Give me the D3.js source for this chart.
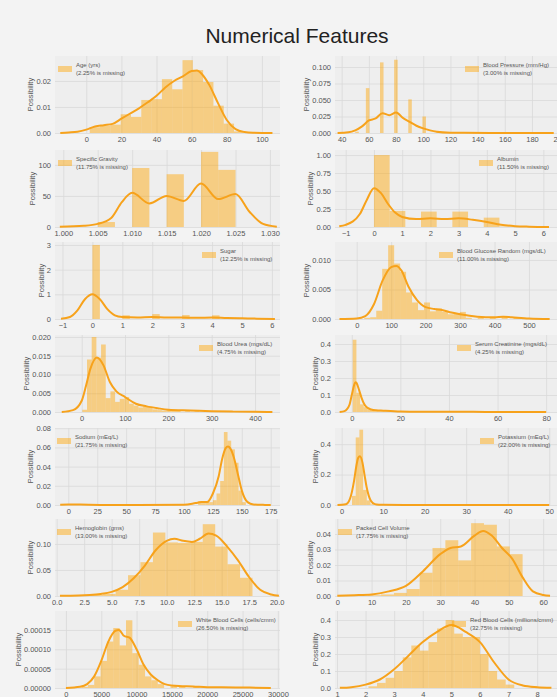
<!DOCTYPE html>
<html>
<head>
<meta charset="utf-8">
<script src="https://cdnjs.cloudflare.com/ajax/libs/d3/7.8.5/d3.min.js"></script>
<style>
  body { margin: 0; background: #f3f3f3; }
  svg { display: block; font-family: "Liberation Sans", Arial, sans-serif; }
  .tick text { fill: #555; font-size: 7.5px; }
  .tick line { stroke: #d9d9d9; stroke-width: 0.8; }
</style>
</head>
<body>
<div id="plot"></div>
<script>
// ---- data ----
var features = ["Age (yrs)", "Blood Pressure (mm/Hg)", "Specific Gravity", "Albumin",
  "Sugar", "Blood Glucose Random (mgs/dL)", "Blood Urea (mgs/dL)", "Serum Creatinine (mgs/dL)",
  "Sodium (mEq/L)", "Potassium (mEq/L)", "Hemoglobin (gms)", "Packed Cell Volume",
  "White Blood Cells (cells/cmm)", "Red Blood Cells (millions/cmm)"];
var missing = ["2.25", "3.00", "11.75", "11.50", "12.25", "11.00", "4.75", "4.25",
  "21.75", "22.00", "13.00", "17.75", "26.50", "32.75"];

// histogram bins: [from, to, density]
var ageBins = [[2,7.87,0.0022],[7.87,13.73,0.0028],[13.73,19.6,0.0032],[19.6,25.47,0.0072],
  [25.47,31.33,0.0062],[31.33,37.2,0.0127],[37.2,43.07,0.013],[43.07,48.93,0.0207],
  [48.93,54.8,0.0168],[54.8,60.67,0.028],[60.67,66.53,0.0242],[66.53,72.4,0.0196],
  [72.4,78.27,0.0105],[78.27,84.13,0.0036],[84.13,90,0.0006]];
var bpBins = [[50,52.6,0.002],[57.8,60.4,0.068],[68.2,70.8,0.107],[78.6,81.2,0.111],
  [89,91.6,0.051],[99.4,102,0.025],[109.8,112.4,0.003],[117.6,120.2,0.0008],
  [138.4,141,0.0008],[177.4,180,0.0008]];
var sgBins = [[1.005,1.0075,8],[1.010,1.0125,95],[1.015,1.0175,85],[1.020,1.0225,121],[1.0225,1.025,92]];
var albBins = [[0,0.556,1.0],[0.556,1.111,0.223],[1.667,2.222,0.214],[2.778,3.333,0.214],
  [3.889,4.444,0.13],[4.444,5,0.006]];
var sugarBins = [[0,0.25,3.0],[1,1.25,0.15],[2,2.25,0.2],[3,3.25,0.16],[4,4.25,0.15],[4.75,5,0.035]];
var bgrBins = [[22,39.3,0.0002],[39.3,56.7,0.0003],[56.7,74,0.0014],[74,91.3,0.0085],
  [91.3,108.7,0.0125],[108.7,126,0.0094],[126,143.3,0.008],[143.3,160.7,0.0045],
  [160.7,178,0.0028],[178,195.3,0.0015],[195.3,212.7,0.0028],[212.7,230,0.0013],
  [230,247.3,0.0018],[247.3,264.7,0.0012],[264.7,282,0.0008],[282,299.3,0.0009],
  [299.3,316.7,0.0012],[316.7,334,0.0002],[351.3,368.7,0.0002],[386,403.3,0.0002],
  [420.7,438,0.0003],[455.3,472.7,0.0002],[472.7,490,0.0002]];
var buBins = [[1.5,12.3,0.0006],[12.3,23.1,0.014],[23.1,33.9,0.02],[33.9,44.7,0.0145],
  [44.7,55.5,0.018],[55.5,66.3,0.0037],[66.3,77.1,0.0055],[77.1,87.8,0.0027],
  [87.8,98.6,0.0035],[98.6,109.4,0.004],[109.4,120.2,0.0022],[120.2,131,0.0017],
  [131,141.8,0.0012],[141.8,152.6,0.0015],[152.6,163.4,0.0012],[163.4,174.2,0.0007],
  [174.2,185,0.0005],[185,195.8,0.0004],[195.8,206.6,0.0006],[206.6,217.3,0.0003],
  [217.3,228.1,0.0003],[238.9,249.7,0.0002],[260.5,271.3,0.0002],[292.8,303.6,0.0002],
  [314.4,325.2,0.0002],[357.6,368.4,0.0002],[379.2,390,0.0002]];
var scBins = [[0.4,1.91,0.425],[1.91,3.42,0.113],[3.42,4.94,0.045],[4.94,6.45,0.028],
  [6.45,7.96,0.016],[7.96,9.47,0.01],[9.47,10.98,0.005],[10.98,12.5,0.004],[12.5,14,0.003],
  [14,15.5,0.002],[18.6,20.1,0.001],[23.1,24.6,0.001],[31.6,33.1,0.0008],[47.8,49.3,0.0008],
  [74.5,76,0.0008]];
var sodBins = [[4.5,7.67,0.0008],[112.28,115.45,0.004],[115.45,118.62,0.002],[118.62,121.79,0.003],
  [121.79,124.96,0.003],[124.96,128.13,0.005],[128.13,131.3,0.012],[131.3,134.47,0.025],
  [134.47,137.64,0.076],[137.64,140.81,0.067],[140.81,143.98,0.058],[143.98,147.15,0.044],
  [147.15,150.32,0.015],[150.32,153.49,0.003],[159.83,163,0.0008]];
var potBins = [[2.5,3.39,0.06],[3.39,4.28,0.444],[4.28,5.17,0.495],[5.17,6.06,0.099],
  [6.06,6.95,0.03],[6.95,7.84,0.004],[38.1,39,0.006],[46.1,47,0.006]];
var hbBins = [[3.1,4.23,0.002],[4.23,5.36,0.004],[5.36,6.49,0.012],[6.49,7.62,0.04],
  [7.62,8.75,0.065],[8.75,9.88,0.122],[9.88,11.02,0.103],[11.02,12.15,0.102],
  [12.15,13.28,0.104],[13.28,14.41,0.138],[14.41,15.54,0.095],[15.54,16.67,0.061],
  [16.67,17.8,0.035]];
var pcvBins = [[9,12.75,0.0005],[12.75,16.5,0.001],[16.5,20.25,0.002],[20.25,24,0.0045],
  [24,27.75,0.015],[27.75,31.5,0.031],[31.5,35.25,0.036],[35.25,39,0.023],[39,42.75,0.047],
  [42.75,46.5,0.046],[46.5,50.25,0.032],[50.25,54,0.027]];
var wbcBins = [[2200,3100,0.000003],[3100,4000,0.000008],[4000,4900,0.00003],[4900,5800,0.00007],
  [5800,6700,0.00012],[6700,7600,0.000155],[7600,8500,0.00011],[8500,9400,0.000175],
  [9400,10300,0.00009],[10300,11200,0.00006],[11200,12100,0.00003],[12100,13000,0.00002],
  [13000,13900,0.00001],[14800,15700,0.000005],[16000,16900,0.000003],[18000,18900,0.000003],
  [21000,21900,0.000002],[25500,26400,0.000002]];
var rbcBins = [[2.1,2.4,0.01],[2.4,2.7,0.03],[2.7,3.0,0.06],[3.0,3.3,0.1],[3.3,3.6,0.18],
  [3.6,3.9,0.25],[3.9,4.2,0.22],[4.2,4.5,0.27],[4.5,4.8,0.35],[4.8,5.1,0.4],[5.1,5.4,0.32],
  [5.4,5.7,0.3],[5.7,6.0,0.3],[6.0,6.3,0.2],[6.3,6.6,0.1],[6.6,6.9,0.05],[6.9,7.2,0.02],
  [7.8,8.0,0.01]];

// kde curves: [value, density]
var ageKde = [[-14.8,0],[-10,0.0002],[-5,0.0005],[0,0.0013],[5,0.0025],[10,0.003],[15,0.0035],
  [20,0.0055],[25,0.0075],[30,0.0095],[35,0.0118],[40,0.0143],[45,0.0175],[50,0.02],
  [55,0.0218],[60,0.0238],[63,0.024],[66,0.0225],[70,0.0185],[75,0.0115],[80,0.005],
  [85,0.0015],[90,0.0004],[95,0.0001],[106,0]];
var bpKde = [[37,0],[45,0.001],[50,0.004],[55,0.01],[60,0.019],[65,0.022],[70,0.03],[75,0.027],
  [80,0.031],[85,0.023],[90,0.017],[95,0.011],[100,0.007],[105,0.004],[110,0.002],[120,0.0005],
  [130,0.0002],[150,0.0001],[180,0.0001],[196,0]];
var sgKde = [[0.9995,0.5],[1.003,2],[1.005,5],[1.007,15],[1.0085,40],[1.010,55],[1.0125,38],
  [1.015,50],[1.0175,42],[1.020,70],[1.0225,45],[1.025,53],[1.027,25],[1.029,5],[1.031,0.5]];
var albKde = [[-1.23,0.01],[-1,0.03],[-0.5,0.18],[-0.25,0.38],[0,0.54],[0.25,0.47],[0.5,0.32],
  [0.75,0.2],[1,0.14],[1.5,0.11],[2,0.12],[2.5,0.11],[3,0.12],[3.5,0.1],[4,0.07],[4.5,0.03],
  [5,0.012],[5.5,0.005],[6.2,0]];
var sugarKde = [[-1.05,0.01],[-0.75,0.08],[-0.5,0.35],[-0.25,0.8],[0,1.0],[0.25,0.8],[0.5,0.4],
  [0.75,0.15],[1,0.08],[1.5,0.06],[2,0.08],[2.5,0.06],[3,0.06],[3.5,0.05],[4,0.06],[4.5,0.04],
  [5,0.03],[5.5,0.015],[6.1,0.005]];
var bgrKde = [[-50,0],[0,0.0001],[25,0.0005],[50,0.0025],[75,0.0065],[100,0.0088],[115,0.009],
  [130,0.0082],[150,0.0055],[175,0.0032],[200,0.002],[225,0.0017],[250,0.0015],[275,0.0011],
  [300,0.0008],[350,0.0004],[400,0.0003],[425,0.0004],[450,0.0003],[500,0.0001],[560,0]];
var buKde = [[-46,0],[-20,0.0005],[0,0.003],[10,0.007],[20,0.0115],[35,0.0145],[50,0.0125],
  [65,0.008],[80,0.0055],[100,0.004],[125,0.0022],[150,0.0015],[175,0.001],[200,0.0006],
  [250,0.0004],[300,0.0002],[350,0.0001],[400,0.00005],[440,0]];
var scKde = [[-5,0],[-3,0.005],[-1,0.04],[0,0.1],[1,0.16],[1.5,0.175],[2,0.17],[3,0.13],[4,0.085],
  [5,0.05],[6,0.03],[8,0.015],[10,0.01],[13,0.008],[16,0.006],[20,0.003],[25,0.002],[30,0.0015],
  [40,0.001],[50,0.0008],[60,0.0005],[70,0.0003],[80,0.0001]];
var sodKde = [[-7,0.0003],[0,0.0005],[10,0.0004],[30,0.0001],[60,0.0001],[100,0.0003],[110,0.002],
  [115,0.003],[120,0.003],[125,0.012],[130,0.03],[133,0.048],[136,0.059],[138,0.061],[140,0.059],
  [143,0.05],[147,0.03],[150,0.015],[155,0.003],[160,0.0005],[170,0.0001],[175,0]];
var potKde = [[-1,0],[1,0.005],[2,0.04],[3,0.16],[3.5,0.25],[4,0.31],[4.4,0.32],[5,0.28],[5.5,0.2],
  [6,0.12],[7,0.03],[8,0.006],[9,0.002],[10,0.001],[15,0.0005],[30,0.0004],[40,0.0004],[50,0.0002]];
var hbKde = [[0.3,0.0005],[2,0.001],[3,0.002],[4,0.004],[5,0.008],[6,0.017],[7,0.034],[8,0.058],
  [9,0.088],[10,0.106],[10.7,0.11],[11.5,0.106],[12.3,0.104],[13,0.11],[13.8,0.12],[14.5,0.116],
  [15.5,0.095],[16.5,0.068],[17.5,0.036],[18.5,0.012],[19.5,0.003],[20.2,0.0005]];
var pcvKde = [[0,0.0002],[5,0.0005],[10,0.001],[15,0.003],[20,0.0065],[25,0.016],[30,0.027],
  [33,0.031],[36,0.032],[40,0.039],[42.5,0.042],[45,0.039],[48,0.031],[51,0.024],[54,0.012],
  [57,0.003],[60,0.0007],[62,0.0002]];
var wbcKde = [[0,0],[2000,0.000003],[3000,0.00001],[4000,0.00003],[5000,0.00007],[6000,0.00012],
  [7000,0.000148],[7500,0.00015],[8200,0.000135],[9000,0.00013],[10000,0.0001],[11000,0.00006],
  [12000,0.000035],[13000,0.00002],[14000,0.00001],[16000,0.000005],[18000,0.000004],
  [20000,0.000002],[22000,0.000002],[26000,0.000001],[29000,0]];
var rbcKde = [[1.1,0.001],[1.5,0.005],[2,0.02],[2.5,0.05],[3,0.11],[3.5,0.19],[4,0.27],[4.5,0.33],
  [5,0.37],[5.5,0.33],[6,0.27],[6.5,0.15],[7,0.05],[7.5,0.015],[8,0.005],[8.5,0.001]];

// tick values
var ageX = [0,20,40,60,80,100], ageY = [0,0.01,0.02];
var bpX = [40,60,80,100,120,140,160,180,200], bpY = [0,0.025,0.05,0.075,0.1];
var sgX = [1.000,1.005,1.010,1.015,1.020,1.025,1.030], sgY = [0,50,100];
var albX = [-1,0,1,2,3,4,5,6], albY = [0,0.25,0.5,0.75,1];
var sugarX = [-1,0,1,2,3,4,5,6], sugarY = [0,1,2,3];
var bgrX = [0,100,200,300,400,500], bgrY = [0,0.005,0.01];
var buX = [0,100,200,300,400], buY = [0,0.005,0.01,0.015,0.02];
var scX = [0,20,40,60,80], scY = [0,0.1,0.2,0.3,0.4];
var sodX = [0,25,50,75,100,125,150,175], sodY = [0,0.02,0.04,0.06,0.08];
var potX = [0,10,20,30,40,50], potY = [0,0.2,0.4];
var hbX = [0,2.5,5,7.5,10,12.5,15,17.5,20], hbY = [0,0.05,0.1];
var pcvX = [0,10,20,30,40,50,60], pcvY = [0,0.01,0.02,0.03,0.04];
var wbcX = [0,5000,10000,15000,20000,25000,30000], wbcY = [0,0.00005,0.0001,0.00015];
var rbcX = [1,2,3,4,5,6,7,8], rbcY = [0,0.1,0.2,0.3,0.4];

// ---- layout ----
var svgWidth = 557, svgHeight = 697;
var colX = [55, 335], plotW = 225, plotH = 77;
var rowBase = [133, 227, 319, 412, 505, 596, 688];

var panels = [
  {bins: ageBins, kde: ageKde, xt: ageX, yt: ageY, xd: [-17.8, 110.3], yMax: 0.0296, xf: "d", yf: ".2f", lx: 58},
  {bins: bpBins, kde: bpKde, xt: bpX, yt: bpY, xd: [35.1, 200.6], yMax: 0.1167, xf: "d", yf: ".3f", lx: 465},
  {bins: sgBins, kde: sgKde, xt: sgX, yt: sgY, xd: [0.9988, 1.03146], yMax: 124, xf: ".3f", yf: "d", lx: 58},
  {bins: albBins, kde: albKde, xt: albX, yt: albY, xd: [-1.38, 6.59], yMax: 1.07, xf: "d", yf: ".2f", lx: 479},
  {bins: sugarBins, kde: sugarKde, xt: sugarX, yt: sugarY, xd: [-1.25, 6.27], yMax: 3.12, xf: "d", yf: "d", lx: 202},
  {bins: bgrBins, kde: bgrKde, xt: bgrX, yt: bgrY, xd: [-63, 590], yMax: 0.01305, xf: "d", yf: ".3f", lx: 439},
  {bins: buBins, kde: buKde, xt: buX, yt: buY, xd: [-61.6, 457.6], yMax: 0.02053, xf: "d", yf: ".3f", lx: 199},
  {bins: scBins, kde: scKde, xt: scX, yt: scY, xd: [-6.9, 85.7], yMax: 0.453, xf: "d", yf: ".1f", lx: 457},
  {bins: sodBins, kde: sodKde, xt: sodX, yt: sodY, xd: [-11.5, 183], yMax: 0.0802, xf: "d", yf: ".2f", lx: 57},
  {bins: potBins, kde: potKde, xt: potX, yt: potY, xd: [-1.6, 52.6], yMax: 0.506, xf: "d", yf: ".1f", lx: 480},
  {bins: hbBins, kde: hbKde, xt: hbX, yt: hbY, xd: [-0.15, 20.3], yMax: 0.148, xf: ".1f", yf: ".2f", lx: 57},
  {bins: pcvBins, kde: pcvKde, xt: pcvX, yt: pcvY, xd: [-0.67, 64.9], yMax: 0.0497, xf: "d", yf: ".2f", lx: 338},
  {bins: wbcBins, kde: wbcKde, xt: wbcX, yt: wbcY, xd: [-1550, 30300], yMax: 0.000199, xf: "d", yf: ".5f", lx: 178},
  {bins: rbcBins, kde: rbcKde, xt: rbcX, yt: rbcY, xd: [0.93, 8.8], yMax: 0.453, xf: "d", yf: ".1f", lx: 452}
];

var svg = d3.select("#plot")
  .append("svg")
  .attr("width", svgWidth)
  .attr("height", svgHeight);

svg.append("rect")
  .attr("width", svgWidth)
  .attr("height", svgHeight)
  .attr("fill", "#f3f3f3");

svg.append("text")
  .attr("x", 297)
  .attr("y", 43)
  .attr("text-anchor", "middle")
  .attr("font-size", "21px")
  .attr("fill", "#222")
  .text("Numerical Features");

panels.forEach(function (p, i) {
  var x0 = colX[i % 2];
  var base = rowBase[Math.floor(i / 2)];
  var top = base - plotH;

  var x = d3.scaleLinear().domain(p.xd).range([x0, x0 + plotW]);
  var y = d3.scaleLinear().domain([0, p.yMax]).range([base, top]);

  var g = svg.append("g");

  g.append("rect")
    .attr("x", x0).attr("y", top)
    .attr("width", plotW).attr("height", plotH)
    .attr("fill", "#eeeeee");

  var clipId = "clip" + i;
  g.append("clipPath").attr("id", clipId)
    .append("rect")
    .attr("x", x0).attr("y", top - 2)
    .attr("width", plotW).attr("height", plotH + 4);

  // axes with grid lines
  var xAxis = g.append("g")
    .attr("transform", `translate(0, ${base})`)
    .call(d3.axisBottom(x).tickValues(p.xt).tickFormat(d3.format(p.xf))
      .tickSizeInner(-plotH).tickSizeOuter(0).tickPadding(3));
  var yAxis = g.append("g")
    .attr("transform", `translate(${x0}, 0)`)
    .call(d3.axisLeft(y).tickValues(p.yt).tickFormat(d3.format(p.yf))
      .tickSizeInner(-plotW).tickSizeOuter(0).tickPadding(4));
  xAxis.select(".domain").remove();
  yAxis.select(".domain").remove();
  xAxis.selectAll("text").attr("dy", "0.85em");

  var inner = g.append("g").attr("clip-path", `url(#${clipId})`);

  inner.selectAll("rect.bar")
    .data(p.bins)
    .enter()
    .append("rect")
    .attr("class", "bar")
    .attr("x", d => x(d[0]))
    .attr("y", d => y(d[2]))
    .attr("width", d => Math.max(0.5, x(d[1]) - x(d[0])))
    .attr("height", d => base - y(d[2]))
    .attr("fill", "#ffa500")
    .attr("fill-opacity", 0.45);

  var line = d3.line()
    .x(d => x(d[0]))
    .y(d => y(d[1]))
    .curve(d3.curveMonotoneX);

  inner.append("path")
    .datum(p.kde)
    .attr("d", line)
    .attr("fill", "none")
    .attr("stroke", "#f7a21b")
    .attr("stroke-width", 2);

  // y label sits left of the widest tick label
  var labelW = d3.max(yAxis.selectAll("text").nodes(), n => n.getComputedTextLength());
  svg.append("text")
    .attr("transform", `translate(${x0 - labelW - 7}, ${base - plotH / 2}) rotate(-90)`)
    .attr("text-anchor", "middle")
    .attr("font-size", "7.5px")
    .attr("fill", "#555")
    .text("Possibility");

  // legend
  var lg = g.append("g").attr("transform", `translate(${p.lx}, ${top + 7})`);
  lg.append("rect")
    .attr("x", 0).attr("y", 3)
    .attr("width", 14).attr("height", 6)
    .attr("fill", "#ffa500")
    .attr("fill-opacity", 0.45);
  lg.append("text")
    .attr("x", 18).attr("y", 4)
    .attr("font-size", "6px").attr("fill", "#555")
    .text(features[i]);
  lg.append("text")
    .attr("x", 18).attr("y", 11.5)
    .attr("font-size", "6px").attr("fill", "#555")
    .text(`(${missing[i]}% is missing)`);
});
</script>
</body>
</html>
